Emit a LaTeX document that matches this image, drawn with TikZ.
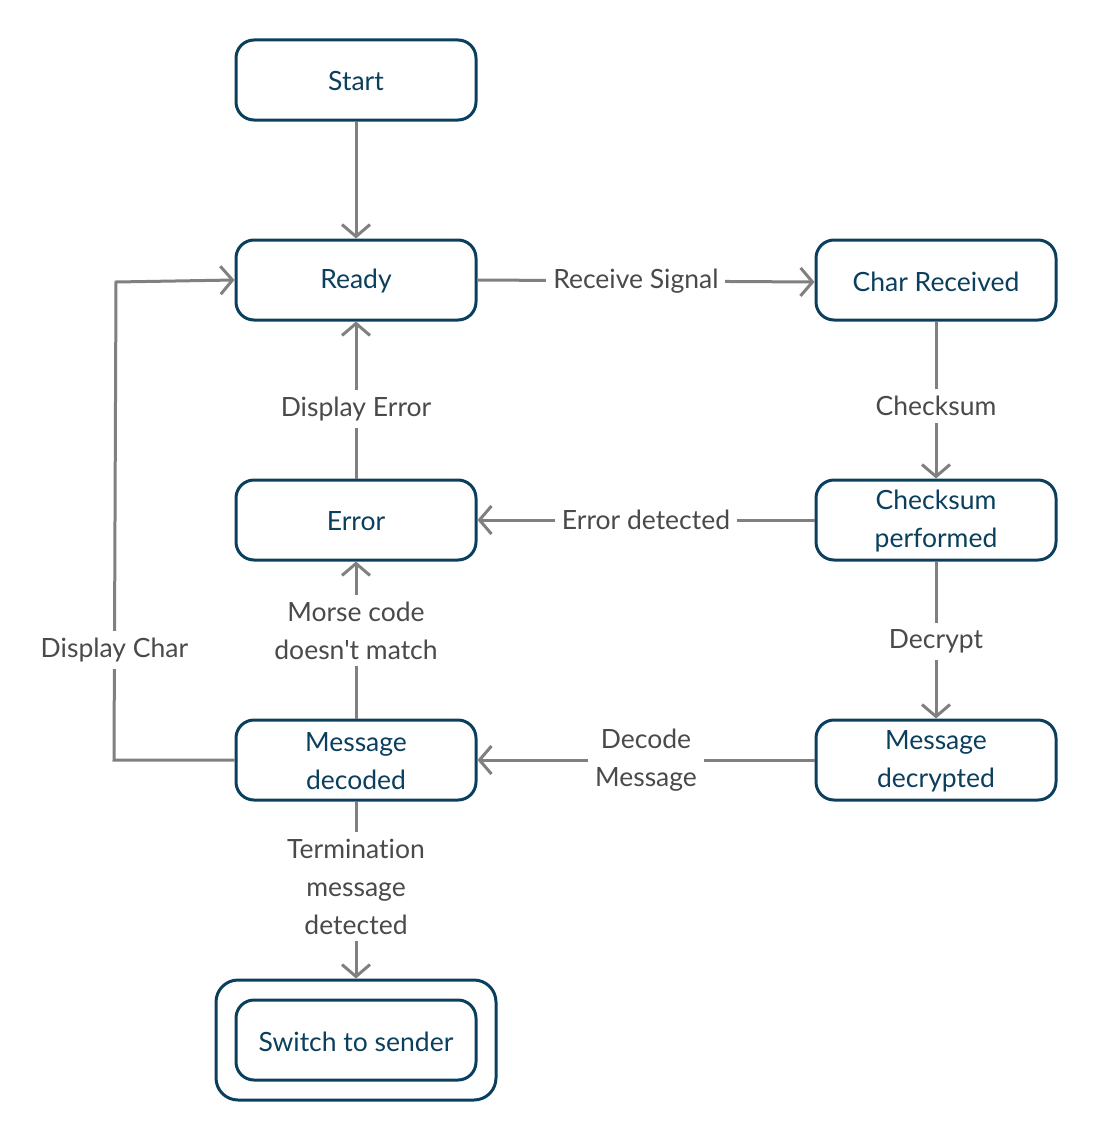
\documentclass[tikz,border=0pt]{standalone}
\usepackage{fontspec}
\setmainfont{Lato}[Ligatures={TeXOff,NoCommon}]
\usetikzlibrary{arrows.meta}
\definecolor{nodeblue}{HTML}{0B3F5E}
\definecolor{linegray}{HTML}{808080}
\definecolor{labelgray}{HTML}{4A4A4A}
\tikzset{
  state/.style={draw=nodeblue, line width=3pt, rounded corners=18pt, fill=white,
    minimum width=240pt, minimum height=80pt, inner sep=0pt},
  stxt/.style={text=nodeblue, align=center, inner sep=0pt, yshift=-1.5pt,
    font=\fontsize{26.5}{38}\selectfont},
  outerbox/.style={draw=nodeblue, line width=3pt, rounded corners=22pt,
    minimum width=280pt, minimum height=120pt, inner sep=0pt},
  conn/.style={draw=linegray, line width=3pt, -{Straight Barb[length=12pt,width=28pt,line width=3pt]}},
  lbl/.style={fill=white, text=labelgray, align=center, inner sep=7pt,
    font=\fontsize{26.5}{38}\selectfont}
}
\begin{document}
\begin{tikzpicture}[x=1pt,y=-1pt]
\useasboundingbox (0,0) rectangle (1096,1140);
\node[state, label={[stxt]center:Start}] (start) at (356,80) {};
\node[state, label={[stxt]center:Ready}] (ready) at (356,280) {};
\node[state, label={[stxt]center:Char Received}] (char) at (936,280) {};
\node[state, label={[stxt]center:Error}] (error) at (356,520) {};
\node[state, label={[stxt]center:{Checksum\\performed}}] (check) at (936,520) {};
\node[state, label={[stxt]center:{Message\\decoded}}] (decoded) at (356,760) {};
\node[state, label={[stxt]center:{Message\\decrypted}}] (decrypted) at (936,760) {};
\node[outerbox] (outer) at (356,1040) {};
\node[state, label={[stxt]center:Switch to sender}] (switch) at (356,1040) {};
\coordinate (c1) at (114,760);
\coordinate (c2) at (116,282);

\draw[conn] (start) -- (ready);
\draw[conn] (ready.east) -- node[lbl, pos=0.47] {Receive Signal} ([yshift=-2pt]char.west);
\draw[conn] (char) -- node[lbl, pos=0.54] {Checksum} (check);
\draw[conn] (check) -- node[lbl, pos=0.5] {Error detected} (error);
\draw[conn] (error) -- node[lbl, pos=0.44] {Display Error} (ready);
\draw[conn] (check) -- node[lbl, pos=0.51] {Decrypt} (decrypted);
\draw[conn] (decrypted) -- node[lbl, pos=0.5] {Decode\\Message} (decoded);
\draw[conn] (decoded) -- node[lbl, pos=0.56] {Morse code\\doesn't match} (error);
\draw[conn] (decoded.south) -- node[lbl, pos=0.48] {Termination\\message\\detected} (outer.north);
\draw[conn] (decoded.west) -- (c1) -- node[lbl, pos=0.23] {Display Char} (c2) -- (ready.west);
\end{tikzpicture}
\end{document}
